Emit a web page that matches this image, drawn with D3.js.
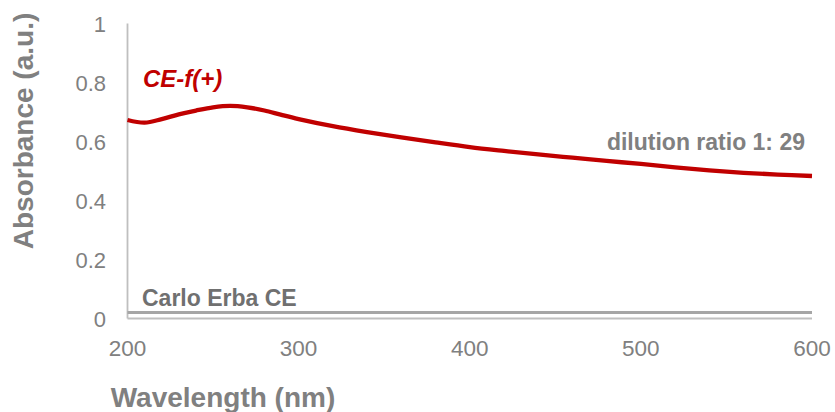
<!DOCTYPE html>
<html>
<head>
<meta charset="utf-8">
<script src="https://cdn.jsdelivr.net/npm/d3@7"></script>
<style>
  html, body { margin: 0; padding: 0; background: #fff; }
  svg { display: block; font-family: "Liberation Sans", Arial, sans-serif; }
</style>
</head>
<body>
<svg id="chart" width="835" height="412"></svg>
<script>
// ---- data ----
const wavelengths = [200, 210, 220, 230, 240, 250, 260, 270, 280, 290, 300, 320, 340, 360, 380, 400, 420, 440, 460, 480, 500, 520, 540, 560, 580, 600];
const ceF = [0.673, 0.664, 0.676, 0.692, 0.705, 0.716, 0.721, 0.716, 0.705, 0.690, 0.676, 0.652, 0.632, 0.614, 0.597, 0.581, 0.568, 0.556, 0.545, 0.534, 0.524, 0.512, 0.502, 0.494, 0.488, 0.483];
const carloErba = [0.020, 0.020, 0.020, 0.020, 0.020, 0.020, 0.020, 0.020, 0.020, 0.020, 0.020, 0.020, 0.020, 0.020, 0.020, 0.020, 0.020, 0.020, 0.020, 0.020, 0.020, 0.020, 0.020, 0.020, 0.020, 0.020];
const xTicks = [200, 300, 400, 500, 600];
const yTicks = [0, 0.2, 0.4, 0.6, 0.8, 1];
const yTickLabels = ["0", "0.2", "0.4", "0.6", "0.8", "1"];

const svg = d3.select("#chart");
const x = d3.scaleLinear().domain([200, 600]).range([127.5, 812]);
const y = d3.scaleLinear().domain([0, 1]).range([318.5, 23.5]);

const axisColor = "#bfbfbf";
const textColor = "#808080";

// axes lines
svg.append("line").attr("x1", x(200)).attr("x2", x(200)).attr("y1", y(1)).attr("y2", y(0))
  .attr("stroke", axisColor).attr("stroke-width", 1.8);
svg.append("line").attr("x1", x(200)).attr("x2", x(600)).attr("y1", y(0)).attr("y2", y(0))
  .attr("stroke", axisColor).attr("stroke-width", 1.8);

// y tick labels
svg.append("g").selectAll("text").data(yTicks).join("text")
  .attr("x", 106).attr("y", d => y(d) + 8)
  .attr("text-anchor", "end").attr("font-size", 22).attr("fill", textColor)
  .text((d, i) => yTickLabels[i]);

// x tick labels
svg.append("g").selectAll("text").data(xTicks).join("text")
  .attr("x", d => x(d)).attr("y", 356)
  .attr("text-anchor", "middle").attr("font-size", 22.5).attr("fill", textColor)
  .text(d => d);

// axis titles
svg.append("text").attr("x", 223).attr("y", 407)
  .attr("text-anchor", "middle").attr("font-size", 28).attr("font-weight", "bold").attr("fill", textColor)
  .text("Wavelength (nm)");
svg.append("text").attr("transform", "translate(33,131) rotate(-90)")
  .attr("text-anchor", "middle").attr("font-size", 28).attr("font-weight", "bold").attr("fill", textColor)
  .text("Absorbance (a.u.)");

const line = d3.line().x((d, i) => x(wavelengths[i])).y(d => y(d)).curve(d3.curveCatmullRom.alpha(0.5));

svg.append("path").datum(carloErba).attr("d", line)
  .attr("fill", "none").attr("stroke", "#a6a6a6").attr("stroke-width", 3);
svg.append("path").datum(ceF).attr("d", line)
  .attr("fill", "none").attr("stroke", "#c00000").attr("stroke-width", 4.3);

// annotations
svg.append("text").attr("x", 143).attr("y", 87)
  .attr("font-size", 24).attr("font-weight", "bold").attr("font-style", "italic").attr("fill", "#c00000")
  .text("CE-f(+)");
svg.append("text").attr("x", 805).attr("y", 150).attr("text-anchor", "end")
  .attr("font-size", 23).attr("font-weight", "bold").attr("fill", textColor)
  .text("dilution ratio 1: 29");
svg.append("text").attr("x", 142).attr("y", 306)
  .attr("font-size", 23).attr("font-weight", "bold").attr("fill", "#707070")
  .text("Carlo Erba CE");
</script>
</body>
</html>
